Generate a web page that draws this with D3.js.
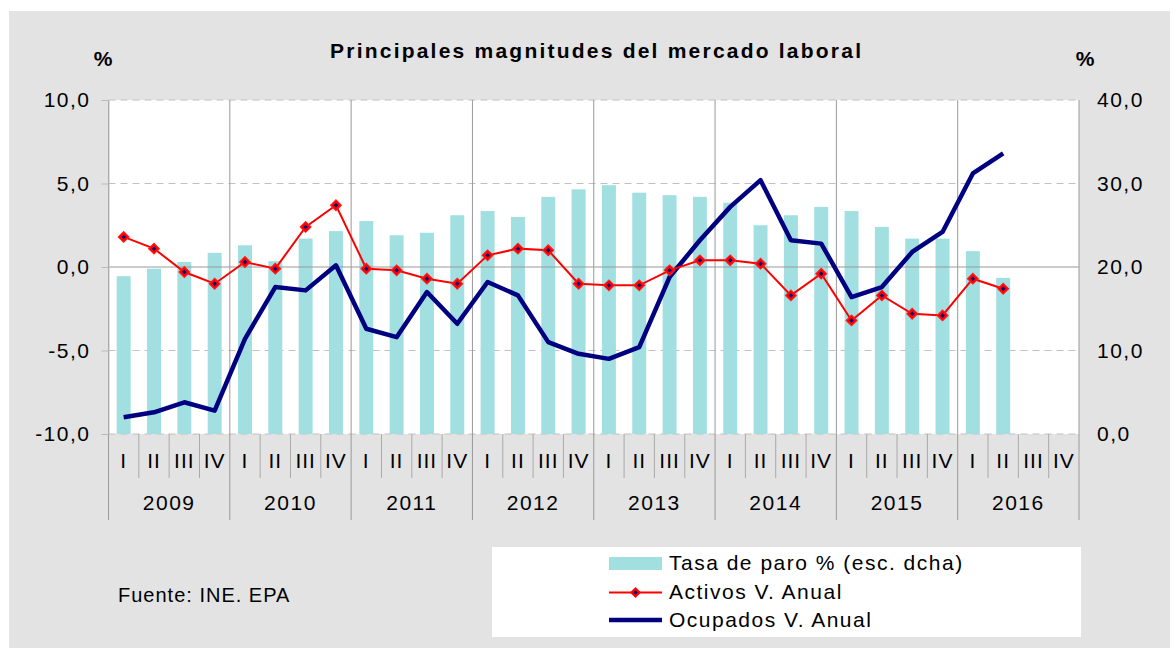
<!DOCTYPE html>
<html>
<head>
<meta charset="utf-8">
<script src="https://cdn.jsdelivr.net/npm/d3@7"></script>
<style>
  body { margin: 0; background: #fff; }
  text { font-family: "Liberation Sans", Arial, sans-serif; fill: #000; }
</style>
</head>
<body>
<div id="chart"></div>
<script>
// data (EPA, variación anual y tasa de paro)
const years = ['2009', '2010', '2011', '2012', '2013', '2014', '2015', '2016'];
const quarters = ['I', 'II', 'III', 'IV'];
const leftTicks = [-10, -5, 0, 5, 10];
const rightTicks = [0, 10, 20, 30, 40];

// Tasa de paro % (esc. dcha)
const tasaParo = [18.9, 19.8, 20.6, 21.7, 22.6, 20.7, 23.4, 24.3,
                  25.5, 23.8, 24.1, 26.2, 26.7, 26.0, 28.4, 29.3,
                  29.8, 28.9, 28.6, 28.4, 27.7, 25.0, 26.2, 27.2,
                  26.7, 24.8, 23.4, 23.4, 21.9, 18.7, null, null];
// Activos V. Anual
const activos = [1.8, 1.1, -0.3, -1.0, 0.3, -0.1, 2.4, 3.7,
                 -0.1, -0.2, -0.7, -1.0, 0.7, 1.1, 1.0, -1.0,
                 -1.1, -1.1, -0.2, 0.4, 0.4, 0.2, -1.7, -0.4,
                 -3.2, -1.7, -2.8, -2.9, -0.7, -1.3, null, null];
// Ocupados V. Anual
const ocupados = [-9.0, -8.7, -8.1, -8.6, -4.3, -1.2, -1.4, 0.1,
                  -3.7, -4.2, -1.5, -3.4, -0.9, -1.7, -4.5, -5.2,
                  -5.5, -4.8, -0.6, 1.6, 3.6, 5.2, 1.6, 1.4,
                  -1.8, -1.2, 0.9, 2.1, 5.6, 6.8, null, null];

const width = 1176;
const height = 651;
const plot = { left: 108.5, right: 1079, top: 100, bottom: 434 };

const periods = years.flatMap(y => quarters.map(q => y + '-' + q));
const rows = periods.map((p, i) => ({
    p: p, paro: tasaParo[i], activos: activos[i], ocupados: ocupados[i]
}));

const es = d3.formatLocale({ decimal: ',', thousands: '.', grouping: [3], currency: ['', '€'], minus: '-' });
const fmt = es.format('.1f');

const svg = d3.select('#chart').append('svg')
    .attr('width', width)
    .attr('height', height);

// grey chart area + white plot area
svg.append('rect').attr('x', 9).attr('y', 11).attr('width', 1161).attr('height', 637).attr('fill', '#e3e3e3');
svg.append('rect')
    .attr('x', plot.left).attr('y', plot.top)
    .attr('width', plot.right - plot.left).attr('height', plot.bottom - plot.top)
    .attr('fill', '#fff');

// scales
const xSlot = d3.scaleBand().domain(periods).range([plot.left, plot.right]).padding(0);
const xYear = d3.scaleBand().domain(years).range([plot.left, plot.right]).padding(0);
const yLeft = d3.scaleLinear().domain([-10, 10]).range([plot.bottom, plot.top]);
const yRight = d3.scaleLinear().domain([0, 40]).range([plot.bottom, plot.top]);
const barW = xSlot.bandwidth() * 0.46;
const cx = d => xSlot(d) + xSlot.bandwidth() / 2;

// dashed gridlines
svg.append('g').selectAll('line')
    .data(leftTicks.filter(d => d !== 0))
    .join('line')
    .attr('x1', plot.left).attr('x2', plot.right)
    .attr('y1', d => yLeft(d)).attr('y2', d => yLeft(d))
    .attr('stroke', '#c0c0c0')
    .attr('stroke-dasharray', '7,5');

// year separators (plot + axis band)
svg.append('g').selectAll('line')
    .data(years.concat(['end']))
    .join('line')
    .attr('x1', d => d === 'end' ? plot.right : xYear(d))
    .attr('x2', d => d === 'end' ? plot.right : xYear(d))
    .attr('y1', plot.top).attr('y2', 520)
    .attr('stroke', '#999');

// quarter separators under the plot
svg.append('g').selectAll('line')
    .data(periods.filter(p => !p.endsWith('-I')))
    .join('line')
    .attr('x1', d => xSlot(d)).attr('x2', d => xSlot(d))
    .attr('y1', plot.bottom).attr('y2', 478)
    .attr('stroke', '#aaa');

// bars
svg.append('g').selectAll('rect')
    .data(rows.filter(d => d.paro !== null))
    .join('rect')
    .attr('x', d => cx(d.p) - barW / 2)
    .attr('width', barW)
    .attr('y', d => yRight(d.paro))
    .attr('height', d => plot.bottom - yRight(d.paro))
    .attr('fill', '#a1dfe0');

// zero line
svg.append('line')
    .attr('x1', plot.left).attr('x2', plot.right)
    .attr('y1', yLeft(0)).attr('y2', yLeft(0))
    .attr('stroke', '#999');

// left axis
const leftAxis = svg.append('g')
    .attr('transform', `translate(${plot.left},0)`)
    .call(d3.axisLeft(yLeft).tickValues(leftTicks).tickFormat(fmt).tickSize(7).tickPadding(11));
leftAxis.select('.domain').attr('stroke', '#bbb');
leftAxis.selectAll('.tick line').attr('stroke', '#bbb');
leftAxis.selectAll('text').style('font-size', '21px').style('letter-spacing', '1.5px')
    .attr('font-family', null);

// right axis
const rightAxis = svg.append('g')
    .attr('transform', `translate(${plot.right},0)`)
    .call(d3.axisRight(yRight).tickValues(rightTicks).tickFormat(fmt).tickSize(0).tickPadding(18));
rightAxis.select('.domain').remove();
rightAxis.selectAll('text').style('font-size', '21px').style('letter-spacing', '1.5px');

// quarter labels
const qAxis = svg.append('g')
    .attr('transform', `translate(0,${plot.bottom})`)
    .call(d3.axisBottom(xSlot).tickFormat(d => d.split('-')[1]).tickSize(0).tickPadding(19));
qAxis.select('.domain').remove();
qAxis.selectAll('text').style('font-size', '21px').style('letter-spacing', '1px');

// year labels
const yAxis = svg.append('g')
    .attr('transform', `translate(0,${plot.bottom})`)
    .call(d3.axisBottom(xYear).tickSize(0).tickPadding(61));
yAxis.select('.domain').remove();
yAxis.selectAll('text').style('font-size', '21px').style('letter-spacing', '1.5px');

// lines
const lineOcup = d3.line()
    .defined(d => d.ocupados !== null)
    .x(d => cx(d.p)).y(d => yLeft(d.ocupados));
const lineAct = d3.line()
    .defined(d => d.activos !== null)
    .x(d => cx(d.p)).y(d => yLeft(d.activos));

svg.append('path').datum(rows)
    .attr('d', lineOcup)
    .attr('fill', 'none').attr('stroke', '#000080')
    .attr('stroke-width', 4.5).attr('stroke-linejoin', 'round');

svg.append('path').datum(rows)
    .attr('d', lineAct)
    .attr('fill', 'none').attr('stroke', '#ff0000')
    .attr('stroke-width', 2);

const outer = d3.symbol().type(d3.symbolSquare).size(60);
const inner = d3.symbol().type(d3.symbolSquare).size(10);
const marks = svg.append('g').selectAll('g')
    .data(rows.filter(d => d.activos !== null))
    .join('g')
    .attr('transform', d => `translate(${cx(d.p)},${yLeft(d.activos)}) rotate(45)`);
marks.append('path').attr('d', outer).attr('fill', '#ff0000').attr('stroke', '#ff2020').attr('stroke-width', 1);
marks.append('path').attr('d', inner).attr('fill', '#000080');

// title and units
svg.append('text')
    .attr('x', 330).attr('y', 58)
    .attr('textLength', 531).attr('lengthAdjust', 'spacing')
    .style('font-size', '21px').style('font-weight', 'bold')
    .text('Principales magnitudes del mercado laboral');
svg.append('text').attr('x', 103).attr('y', 66).attr('text-anchor', 'middle')
    .style('font-size', '21px').style('font-weight', 'bold').text('%');
svg.append('text').attr('x', 1085).attr('y', 66).attr('text-anchor', 'middle')
    .style('font-size', '21px').style('font-weight', 'bold').text('%');

// source
svg.append('text').attr('x', 118).attr('y', 602)
    .style('font-size', '20px').style('letter-spacing', '1px')
    .text('Fuente: INE. EPA');

// legend
const legend = svg.append('g');
legend.append('rect').attr('x', 492).attr('y', 547).attr('width', 589).attr('height', 90).attr('fill', '#fff');
legend.append('rect').attr('x', 609).attr('y', 557).attr('width', 53).attr('height', 13).attr('fill', '#a1dfe0');
legend.append('line').attr('x1', 609).attr('x2', 662).attr('y1', 592.5).attr('y2', 592.5)
    .attr('stroke', '#ff0000').attr('stroke-width', 2);
const lm = legend.append('g').attr('transform', 'translate(635.5,592.5) rotate(45)');
lm.append('path').attr('d', outer).attr('fill', '#ff0000');
lm.append('path').attr('d', inner).attr('fill', '#000080');
legend.append('line').attr('x1', 609).attr('x2', 662).attr('y1', 620).attr('y2', 620)
    .attr('stroke', '#000080').attr('stroke-width', 4.5);

const legendItems = ['Tasa de paro % (esc. dcha)', 'Activos V. Anual', 'Ocupados V. Anual'];
legend.selectAll('text.item')
    .data(legendItems)
    .join('text')
    .attr('class', 'item')
    .attr('x', 669)
    .attr('y', (d, i) => [570, 599, 627][i])
    .style('font-size', '21px').style('letter-spacing', '1.5px')
    .text(d => d);
</script>
</body>
</html>
